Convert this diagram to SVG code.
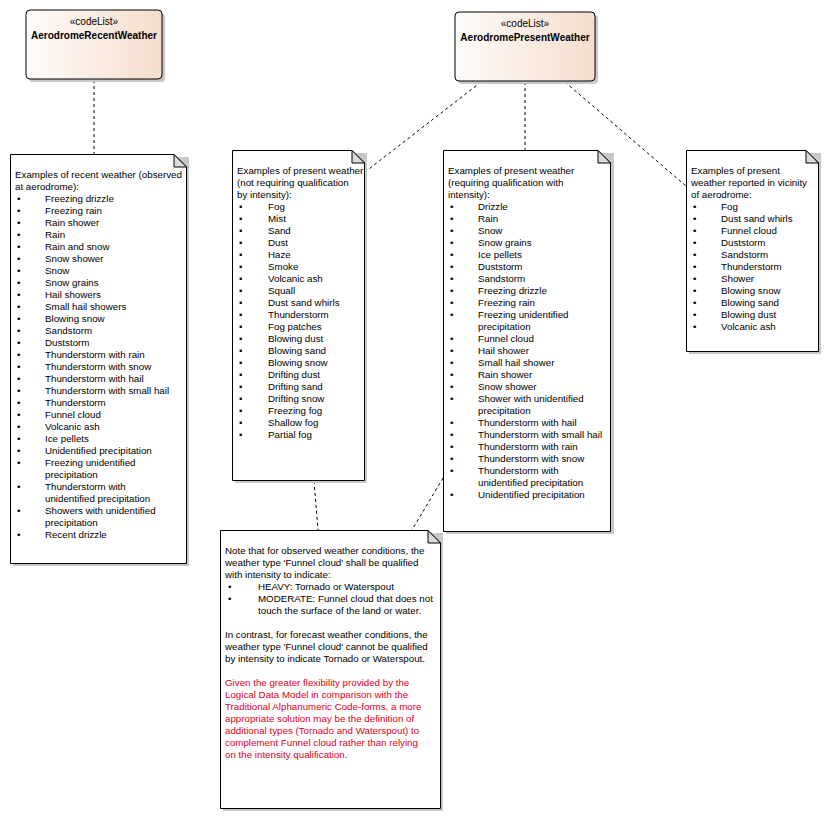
<svg xmlns="http://www.w3.org/2000/svg" width="828" height="819" viewBox="0 0 828 819">
<defs>
<linearGradient id="cls" x1="0" y1="0" x2="1" y2="0">
<stop offset="0" stop-color="#FEFCFA"/>
<stop offset="1" stop-color="#F6DDCC"/>
</linearGradient>
<style>
text{font-family:"Liberation Sans",Arial,sans-serif;font-size:9.75px;fill:#000}
.st{text-anchor:middle;font-size:10px}
.nm{text-anchor:middle;font-weight:bold;font-size:10px}
.red{fill:#E3001B}
.cls{fill:url(#cls);stroke:#000;stroke-width:1}
.sh{fill:#C8C8C8}
.note{fill:#fff;stroke:#000;stroke-width:1}
.fold{fill:#DCDCDC;stroke:#000;stroke-width:1}
.con{fill:none;stroke:#000;stroke-width:1;stroke-dasharray:3,3}
</style>
</defs>
<rect width="828" height="819" fill="#fff"/>
<g id="connectors">
<line class="con" x1="94" y1="80" x2="94" y2="154"/>
<line class="con" x1="481" y1="82" x2="365" y2="172"/>
<line class="con" x1="525" y1="82" x2="525" y2="150"/>
<line class="con" x1="565" y1="82" x2="686" y2="186"/>
<line class="con" x1="314" y1="481" x2="318" y2="530"/>
<line class="con" x1="443" y1="478" x2="412" y2="530"/>
</g>
<g id="AerodromeRecentWeather">
<rect class="sh" x="29" y="13" width="136" height="69" rx="4"/>
<rect class="cls" x="26" y="10" width="136" height="69" rx="4"/>
<text class="st" x="94" y="25">«codeList»</text>
<text class="nm" x="94" y="39">AerodromeRecentWeather</text>
</g>
<g id="AerodromePresentWeather">
<rect class="sh" x="458" y="15" width="140" height="69" rx="4"/>
<rect class="cls" x="455" y="12" width="140" height="69" rx="4"/>
<text class="st" x="525" y="27">«codeList»</text>
<text class="nm" x="525" y="41">AerodromePresentWeather</text>
</g>
<g id="noteRecent">
<rect class="sh" x="13" y="157" width="176" height="409"/>
<path class="note" d="M10.5,154.5 H174 L186.5,167 V563.5 H10.5 Z"/>
<path class="fold" d="M174,154.5 V167 H186.5 Z"/>
<text x="15" y="178">Examples of recent weather (observed</text>
<text x="15" y="190">at aerodrome):</text>
<g id="nr-b">
<text x="17" y="202">•</text><text x="45" y="202">Freezing drizzle</text>
<text x="17" y="214">•</text><text x="45" y="214">Freezing rain</text>
<text x="17" y="226">•</text><text x="45" y="226">Rain shower</text>
<text x="17" y="238">•</text><text x="45" y="238">Rain</text>
<text x="17" y="250">•</text><text x="45" y="250">Rain and snow</text>
<text x="17" y="262">•</text><text x="45" y="262">Snow shower</text>
<text x="17" y="274">•</text><text x="45" y="274">Snow</text>
<text x="17" y="286">•</text><text x="45" y="286">Snow grains</text>
<text x="17" y="298">•</text><text x="45" y="298">Hail showers</text>
<text x="17" y="310">•</text><text x="45" y="310">Small hail showers</text>
<text x="17" y="322">•</text><text x="45" y="322">Blowing snow</text>
<text x="17" y="334">•</text><text x="45" y="334">Sandstorm</text>
<text x="17" y="346">•</text><text x="45" y="346">Duststorm</text>
<text x="17" y="358">•</text><text x="45" y="358">Thunderstorm with rain</text>
<text x="17" y="370">•</text><text x="45" y="370">Thunderstorm with snow</text>
<text x="17" y="382">•</text><text x="45" y="382">Thunderstorm with hail</text>
<text x="17" y="394">•</text><text x="45" y="394">Thunderstorm with small hail</text>
<text x="17" y="406">•</text><text x="45" y="406">Thunderstorm</text>
<text x="17" y="418">•</text><text x="45" y="418">Funnel cloud</text>
<text x="17" y="430">•</text><text x="45" y="430">Volcanic ash</text>
<text x="17" y="442">•</text><text x="45" y="442">Ice pellets</text>
<text x="17" y="454">•</text><text x="45" y="454">Unidentified precipitation</text>
<text x="17" y="466">•</text><text x="45" y="466">Freezing unidentified</text>
<text x="45" y="478">precipitation</text>
<text x="17" y="490">•</text><text x="45" y="490">Thunderstorm with</text>
<text x="45" y="502">unidentified precipitation</text>
<text x="17" y="514">•</text><text x="45" y="514">Showers with unidentified</text>
<text x="45" y="526">precipitation</text>
<text x="17" y="538">•</text><text x="45" y="538">Recent drizzle</text>
</g>
</g>
<g id="noteNoIntensity">
<rect class="sh" x="235" y="153" width="132" height="330"/>
<path class="note" d="M232.5,150.5 H352 L364.5,163 V480.5 H232.5 Z"/>
<path class="fold" d="M352,150.5 V163 H364.5 Z"/>
<text x="237" y="174">Examples of present weather</text>
<text x="237" y="186">(not requiring qualification</text>
<text x="237" y="198">by intensity):</text>
<text x="239" y="210">•</text><text x="268" y="210">Fog</text>
<text x="239" y="222">•</text><text x="268" y="222">Mist</text>
<text x="239" y="234">•</text><text x="268" y="234">Sand</text>
<text x="239" y="246">•</text><text x="268" y="246">Dust</text>
<text x="239" y="258">•</text><text x="268" y="258">Haze</text>
<text x="239" y="270">•</text><text x="268" y="270">Smoke</text>
<text x="239" y="282">•</text><text x="268" y="282">Volcanic ash</text>
<text x="239" y="294">•</text><text x="268" y="294">Squall</text>
<text x="239" y="306">•</text><text x="268" y="306">Dust sand whirls</text>
<text x="239" y="318">•</text><text x="268" y="318">Thunderstorm</text>
<text x="239" y="330">•</text><text x="268" y="330">Fog patches</text>
<text x="239" y="342">•</text><text x="268" y="342">Blowing dust</text>
<text x="239" y="354">•</text><text x="268" y="354">Blowing sand</text>
<text x="239" y="366">•</text><text x="268" y="366">Blowing snow</text>
<text x="239" y="378">•</text><text x="268" y="378">Drifting dust</text>
<text x="239" y="390">•</text><text x="268" y="390">Drifting sand</text>
<text x="239" y="402">•</text><text x="268" y="402">Drifting snow</text>
<text x="239" y="414">•</text><text x="268" y="414">Freezing fog</text>
<text x="239" y="426">•</text><text x="268" y="426">Shallow fog</text>
<text x="239" y="438">•</text><text x="268" y="438">Partial fog</text>
</g>
<g id="noteIntensity">
<rect class="sh" x="446" y="153" width="168" height="381"/>
<path class="note" d="M443.5,150.5 H598 L610.5,163 V531.5 H443.5 Z"/>
<path class="fold" d="M598,150.5 V163 H610.5 Z"/>
<text x="448" y="174">Examples of present weather</text>
<text x="448" y="186">(requiring qualification with</text>
<text x="448" y="198">intensity):</text>
<text x="450" y="210">•</text><text x="478" y="210">Drizzle</text>
<text x="450" y="222">•</text><text x="478" y="222">Rain</text>
<text x="450" y="234">•</text><text x="478" y="234">Snow</text>
<text x="450" y="246">•</text><text x="478" y="246">Snow grains</text>
<text x="450" y="258">•</text><text x="478" y="258">Ice pellets</text>
<text x="450" y="270">•</text><text x="478" y="270">Duststorm</text>
<text x="450" y="282">•</text><text x="478" y="282">Sandstorm</text>
<text x="450" y="294">•</text><text x="478" y="294">Freezing drizzle</text>
<text x="450" y="306">•</text><text x="478" y="306">Freezing rain</text>
<text x="450" y="318">•</text><text x="478" y="318">Freezing unidentified</text>
<text x="478" y="330">precipitation</text>
<text x="450" y="342">•</text><text x="478" y="342">Funnel cloud</text>
<text x="450" y="354">•</text><text x="478" y="354">Hail shower</text>
<text x="450" y="366">•</text><text x="478" y="366">Small hail shower</text>
<text x="450" y="378">•</text><text x="478" y="378">Rain shower</text>
<text x="450" y="390">•</text><text x="478" y="390">Snow shower</text>
<text x="450" y="402">•</text><text x="478" y="402">Shower with unidentified</text>
<text x="478" y="414">precipitation</text>
<text x="450" y="426">•</text><text x="478" y="426">Thunderstorm with hail</text>
<text x="450" y="438">•</text><text x="478" y="438">Thunderstorm with small hail</text>
<text x="450" y="450">•</text><text x="478" y="450">Thunderstorm with rain</text>
<text x="450" y="462">•</text><text x="478" y="462">Thunderstorm with snow</text>
<text x="450" y="474">•</text><text x="478" y="474">Thunderstorm with</text>
<text x="478" y="486">unidentified precipitation</text>
<text x="450" y="498">•</text><text x="478" y="498">Unidentified precipitation</text>
</g>
<g id="noteVicinity">
<rect class="sh" x="689" y="153" width="132" height="201"/>
<path class="note" d="M686.5,150.5 H806 L818.5,163 V351.5 H686.5 Z"/>
<path class="fold" d="M806,150.5 V163 H818.5 Z"/>
<text x="691" y="174">Examples of present</text>
<text x="691" y="186">weather reported in vicinity</text>
<text x="691" y="198">of aerodrome:</text>
<text x="693" y="210">•</text><text x="721" y="210">Fog</text>
<text x="693" y="222">•</text><text x="721" y="222">Dust sand whirls</text>
<text x="693" y="234">•</text><text x="721" y="234">Funnel cloud</text>
<text x="693" y="246">•</text><text x="721" y="246">Duststorm</text>
<text x="693" y="258">•</text><text x="721" y="258">Sandstorm</text>
<text x="693" y="270">•</text><text x="721" y="270">Thunderstorm</text>
<text x="693" y="282">•</text><text x="721" y="282">Shower</text>
<text x="693" y="294">•</text><text x="721" y="294">Blowing snow</text>
<text x="693" y="306">•</text><text x="721" y="306">Blowing sand</text>
<text x="693" y="318">•</text><text x="721" y="318">Blowing dust</text>
<text x="693" y="330">•</text><text x="721" y="330">Volcanic ash</text>
</g>
<g id="noteFunnel">
<rect class="sh" x="223" y="533" width="220" height="278"/>
<path class="note" d="M220.5,530.5 H428 L440.5,543 V808.5 H220.5 Z"/>
<path class="fold" d="M428,530.5 V543 H440.5 Z"/>
<text x="225" y="554">Note that for observed weather conditions, the</text>
<text x="225" y="566">weather type 'Funnel cloud' shall be qualified</text>
<text x="225" y="578">with intensity to indicate:</text>
<text x="228" y="590">•</text><text x="258" y="590">HEAVY: Tornado or Waterspout</text>
<text x="228" y="602">•</text><text x="258" y="602">MODERATE: Funnel cloud that does not</text>
<text x="258" y="614">touch the surface of the land or water.</text>
<text x="225" y="638">In contrast, for forecast weather conditions, the</text>
<text x="225" y="650">weather type 'Funnel cloud' cannot be qualified</text>
<text x="225" y="662">by intensity to indicate Tornado or Waterspout.</text>
<text class="red" x="225" y="686">Given the greater flexibility provided by the</text>
<text class="red" x="225" y="698">Logical Data Model in comparison with the</text>
<text class="red" x="225" y="710">Traditional Alphanumeric Code-forms, a more</text>
<text class="red" x="225" y="722">appropriate solution may be the definition of</text>
<text class="red" x="225" y="734">additional types (Tornado and Waterspout) to</text>
<text class="red" x="225" y="746">complement Funnel cloud rather than relying</text>
<text class="red" x="225" y="758">on the intensity qualification.</text>
</g>
</svg>
